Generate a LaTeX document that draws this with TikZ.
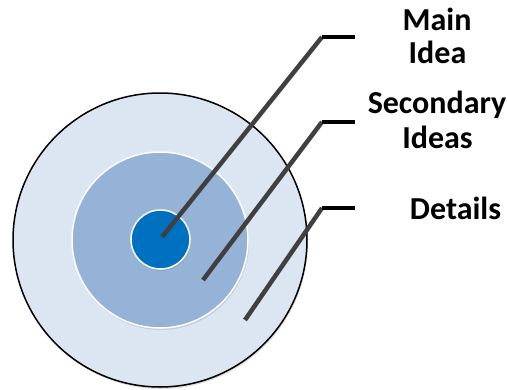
\documentclass[tikz,border=0pt]{standalone}
\usepackage{fontspec}
\setmainfont{Carlito}
\usetikzlibrary{shadows}
\definecolor{outerc}{HTML}{DCE6F2}
\definecolor{midc}{HTML}{95B3D7}
\definecolor{innerc}{HTML}{0070C0}
\definecolor{linec}{HTML}{404040}
\tikzset{
  ring/.style={circle, inner sep=0pt, minimum size=#1},
  leader/.style={draw=linec, line width=4.5pt},
  tick/.style={draw=black, line width=4.5pt},
  lbl/.style={font=\fontsize{32}{38}\selectfont\bfseries, align=center, inner sep=0pt, anchor=base}
}
\begin{document}
\begin{tikzpicture}[x=1pt,y=-1pt]
\useasboundingbox (0,0) rectangle (507,389);
\node[ring=294pt, fill=outerc, draw=black, line width=1.5pt, drop shadow={shadow xshift=1pt, shadow yshift=-2pt, opacity=0.25}] (outer) at (160,240) {};
\node[ring=176pt, fill=midc, draw=white, line width=1.5pt, drop shadow={shadow xshift=1pt, shadow yshift=-2pt, opacity=0.25}] (mid) at (160,240) {};
\node[ring=59pt, fill=innerc, draw=white, line width=1.5pt, drop shadow={shadow xshift=1pt, shadow yshift=-2pt, opacity=0.25}] (inner) at (160.5,239.5) {};
% leader points
\coordinate (a0) at (162,237);
\coordinate (a1) at (322,37);
\coordinate (a2) at (355,37);
\coordinate (b0) at (203,280);
\coordinate (b1) at (322,122);
\coordinate (b2) at (355,122);
\coordinate (c0) at (245,320);
\coordinate (c1) at (322,208);
\coordinate (c2) at (355,208);
\draw[leader] (a0) -- (a1);
\draw[leader] (b0) -- (b1);
\draw[leader] (c0) -- (c1);
\draw[tick] (a1) -- (a2);
\draw[tick] (b1) -- (b2);
\draw[tick] (c1) -- (c2);
% labels
\node[lbl] (main) at (437,30) {Main};
\node[lbl] (idea) at (437.5,63) {Idea};
\node[lbl] (sec) at (437,113) {Secondary};
\node[lbl] (ideas) at (437.5,148) {Ideas};
\node[lbl] (det) at (455.5,219) {Details};
\end{tikzpicture}
\end{document}
